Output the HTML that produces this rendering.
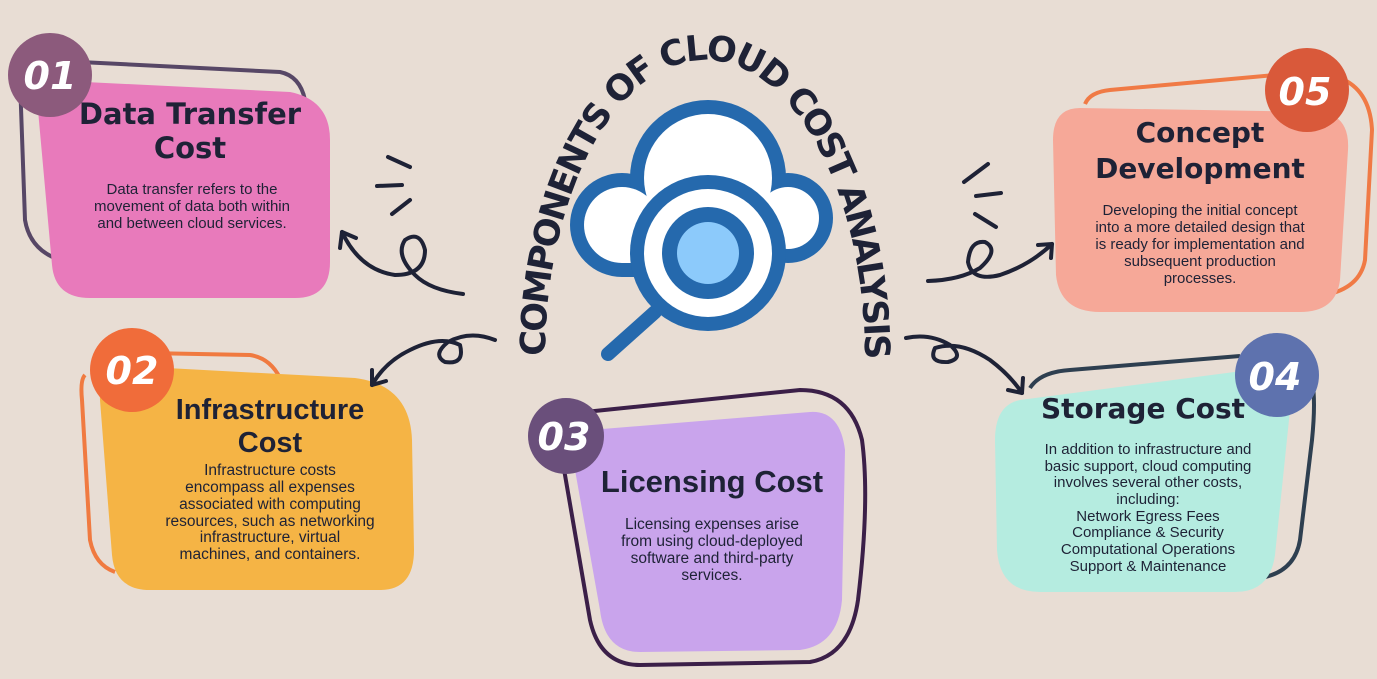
<!DOCTYPE html>
<html><head><meta charset="utf-8"><style>
html,body{margin:0;padding:0;background:#e8ddd4;}
svg{display:block}
.t{font-family:"DejaVu Sans","Liberation Sans",sans-serif;font-weight:bold;fill:#1e2236;text-anchor:middle}
.b{font-family:"Liberation Sans",sans-serif;fill:#1e2236;text-anchor:middle;font-size:15px}
.n{font-family:"Liberation Sans Narrow","Liberation Sans",sans-serif;fill:#1e2236;text-anchor:middle}
.num{font-family:"DejaVu Sans","Liberation Sans",sans-serif;font-weight:bold;fill:#fff;text-anchor:middle;font-size:38px;font-style:italic}
.dk{fill:none;stroke:#1e2236;stroke-width:4;stroke-linecap:round;stroke-linejoin:round}
</style></head><body>
<svg width="1377" height="679" viewBox="0 0 1377 679" xmlns="http://www.w3.org/2000/svg">
<rect width="1377" height="679" fill="#e8ddd4"/>

<!-- Box 1 -->
<path d="M20,80 Q18,62 40,60 L280,72 Q300,76 305,100 L300,260 Q296,282 270,282 L60,260 Q30,250 25,220 Z" fill="none" stroke="#574766" stroke-width="4"/>
<path d="M45,80 L290,92 Q330,100 330,140 L330,262 Q330,298 295,298 L90,298 Q55,298 52,265 L38,110 Q36,78 45,80 Z" fill="#e87abb"/>
<circle cx="50" cy="75" r="42" fill="#8c5a7c"/>
<text class="num" x="50" y="89">01</text>
<text class="t" x="190" y="124" font-size="29">Data Transfer</text>
<text class="t" x="190" y="158" font-size="29">Cost</text>
<text class="b" x="192" y="194">Data transfer refers to the</text>
<text class="b" x="192" y="211">movement of data both within</text>
<text class="b" x="192" y="228">and between cloud services.</text>

<!-- Box 2 -->
<path d="M95,352 L250,355 Q270,358 280,378 M85,375 Q80,380 82,400 L90,540 Q95,565 115,572" fill="none" stroke="#f07a40" stroke-width="4"/>
<path d="M110,365 L355,378 Q410,385 412,440 L414,550 Q414,590 380,590 L150,590 Q115,590 112,555 L100,400 Q98,362 110,365 Z" fill="#f5b445"/>
<circle cx="132" cy="370" r="42" fill="#f06c3a"/>
<text class="num" x="132" y="384">02</text>
<text class="n" x="270" y="419" font-size="29" font-weight="bold">Infrastructure</text>
<text class="n" x="270" y="452" font-size="29" font-weight="bold">Cost</text>
<text class="n" x="270" y="475" font-size="15.5">Infrastructure costs</text>
<text class="n" x="270" y="492" font-size="15.5">encompass all expenses</text>
<text class="n" x="270" y="509" font-size="15.5">associated with computing</text>
<text class="n" x="270" y="526" font-size="15.5">resources, such as networking</text>
<text class="n" x="270" y="542" font-size="15.5">infrastructure, virtual</text>
<text class="n" x="270" y="559" font-size="15.5">machines, and containers.</text>

<!-- Box 3 -->
<path d="M585,412 L800,390 Q850,390 862,440 Q870,500 858,600 Q850,655 810,662 L640,665 Q600,665 590,620 L565,475 Q555,430 585,412 Z" fill="none" stroke="#3b1f48" stroke-width="4"/>
<path d="M590,430 L810,412 Q840,410 845,450 L842,600 Q838,645 800,650 L640,652 Q605,652 600,610 L575,470 Q570,432 590,430 Z" fill="#c9a4ec"/>
<circle cx="566" cy="436" r="38" fill="#6a4f7b"/>
<text class="num" x="564" y="450">03</text>
<text class="n" x="712" y="492" font-size="31" font-weight="bold">Licensing Cost</text>
<text class="n" x="712" y="529" font-size="15.5">Licensing expenses arise</text>
<text class="n" x="712" y="546" font-size="15.5">from using cloud-deployed</text>
<text class="n" x="712" y="563" font-size="15.5">software and third-party</text>
<text class="n" x="712" y="580" font-size="15.5">services.</text>

<!-- Box 4 -->
<path d="M1030,388 Q1040,372 1070,370 L1240,356 M1312,380 Q1316,400 1312,440 L1300,540 Q1295,570 1265,577" fill="none" stroke="#2e3f50" stroke-width="4"/>
<path d="M1020,400 L1265,368 Q1292,370 1290,410 L1275,555 Q1270,592 1235,592 L1040,592 Q1000,592 997,550 L995,440 Q995,405 1020,400 Z" fill="#b5ece0"/>
<circle cx="1277" cy="375" r="42" fill="#5e72ae"/>
<text class="num" x="1275" y="390">04</text>
<text class="t" x="1143" y="418" font-size="28">Storage Cost</text>
<text class="b" x="1148" y="454" font-size="15.5">In addition to infrastructure and</text>
<text class="b" x="1148" y="471" font-size="15.5">basic support, cloud computing</text>
<text class="b" x="1148" y="487" font-size="15.5">involves several other costs,</text>
<text class="b" x="1148" y="504" font-size="15.5">including:</text>
<text class="b" x="1148" y="521" font-size="15.5">Network Egress Fees</text>
<text class="b" x="1148" y="537" font-size="15.5">Compliance &amp; Security</text>
<text class="b" x="1148" y="554" font-size="15.5">Computational Operations</text>
<text class="b" x="1148" y="571" font-size="15.5">Support &amp; Maintenance</text>

<!-- Box 5 -->
<path d="M1085,104 Q1090,92 1110,90 L1275,75 M1340,78 Q1370,90 1372,130 L1365,260 Q1360,288 1325,295" fill="none" stroke="#f07a45" stroke-width="4"/>
<path d="M1080,108 L1320,112 Q1350,115 1348,150 L1340,280 Q1336,312 1300,312 L1100,312 Q1060,312 1056,275 L1053,140 Q1053,108 1080,108 Z" fill="#f6a898"/>
<circle cx="1307" cy="90" r="42" fill="#d9593a"/>
<text class="num" x="1305" y="105">05</text>
<text class="t" x="1200" y="142" font-size="28">Concept</text>
<text class="t" x="1200" y="178" font-size="28">Development</text>
<text class="b" x="1200" y="215" font-size="15.5">Developing the initial concept</text>
<text class="b" x="1200" y="232" font-size="15.5">into a more detailed design that</text>
<text class="b" x="1200" y="249" font-size="15.5">is ready for implementation and</text>
<text class="b" x="1200" y="266" font-size="15.5">subsequent production</text>
<text class="b" x="1200" y="283" font-size="15.5">processes.</text>

<!-- Cloud icon -->
<g fill="#2569ad">
<circle cx="622" cy="225" r="52"/><circle cx="708" cy="178" r="78"/><circle cx="788" cy="218" r="45"/>
<rect x="622" y="200" width="140" height="77"/>
</g>
<g fill="#fff">
<circle cx="622" cy="225" r="38"/><circle cx="708" cy="178" r="64"/><circle cx="788" cy="218" r="31"/>
<rect x="622" y="200" width="150" height="63"/>
</g>
<line x1="655" y1="312" x2="608" y2="354" stroke="#2569ad" stroke-width="14" stroke-linecap="round"/>
<circle cx="708" cy="253" r="78" fill="#2569ad"/>
<circle cx="708" cy="253" r="64" fill="#fff"/>
<circle cx="708" cy="253" r="46" fill="#2569ad"/>
<circle cx="708" cy="253" r="31" fill="#8ccafb"/>

<!-- Curved title -->
<defs><path id="arc" d="M545,358 A160,298 0 1,1 865,358 L865,420"/></defs>
<text font-family="'DejaVu Sans','Liberation Sans',sans-serif" font-weight="bold" font-size="35" fill="#1e2236"><textPath href="#arc" startOffset="2" textLength="735" lengthAdjust="spacing">COMPONENTS OF CLOUD COST ANALYSIS</textPath></text>

<!-- Doodle arrows -->
<path class="dk" d="M463,294 Q430,290 415,275 Q395,255 405,240 Q420,230 425,250 Q425,275 395,275 Q360,270 342,232"/>
<path class="dk" d="M342,232 L340,248 M342,232 L356,238"/>
<path class="dk" d="M388,157 L410,167 M377,186 L402,185 M392,214 L410,200"/>
<path class="dk" d="M495,340 Q470,330 448,342 Q432,355 445,362 Q465,365 460,345 Q440,335 410,350 Q385,362 372,385"/>
<path class="dk" d="M372,385 L372,370 M372,385 L386,381"/>
<path class="dk" d="M928,281 Q960,280 980,268 Q1000,250 985,242 Q970,240 968,262 Q972,282 1000,275 Q1030,265 1052,244"/>
<path class="dk" d="M1052,244 L1038,245 M1052,244 L1051,258"/>
<path class="dk" d="M988,164 L964,182 M976,196 L1001,193 M975,214 L996,227"/>
<path class="dk" d="M906,338 Q930,333 950,345 Q965,358 948,362 Q928,363 935,348 Q960,340 990,360 Q1010,375 1022,393"/>
<path class="dk" d="M1022,393 L1008,390 M1022,393 L1023,378"/>
</svg>
</body></html>
